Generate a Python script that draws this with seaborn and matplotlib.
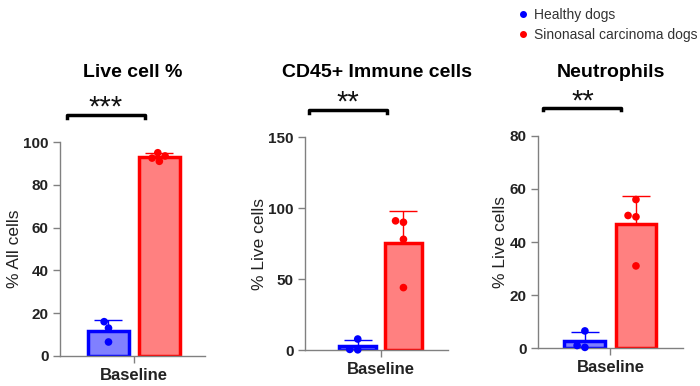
import numpy as np
import pandas as pd
import matplotlib
matplotlib.use("Agg")
import matplotlib.pyplot as plt
import seaborn as sns
from matplotlib.lines import Line2D

# ── Data ─────────────────────────────────────────────────────────────────────
groups = ["Healthy dogs", "Sinonasal carcinoma dogs"]
timepoint = "Baseline"

titles = ["Live cell %", "CD45+ Immune cells", "Neutrophils"]
ylabels = ["% All cells", "% Live cells", "% Live cells"]
yticks = [[0, 20, 40, 60, 80, 100], [0, 50, 100, 150], [0, 20, 40, 60, 80]]
stars = ["***", "**", "**"]

live_healthy = [16.0, 13.0, 6.5]
live_snc = [95.0, 93.5, 91.0, 92.5]
cd45_healthy = [7.8, 0.2, 0.5]
cd45_snc = [90.0, 91.0, 78.0, 44.0]
neut_healthy = [6.5, 0.3, 1.0]
neut_snc = [56.0, 50.0, 49.5, 31.0]

panels = [(live_healthy, live_snc), (cd45_healthy, cd45_snc), (neut_healthy, neut_snc)]

edge_colors = ["#0000FF", "#FF0000"]
fill_colors = ["#8080FF", "#FF8080"]

# ── Layout (pixel-measured positions) ────────────────────────────────────────
axes_rects = [
    [0.086, 0.078, 0.207, 0.554],
    [0.436, 0.093, 0.204, 0.552],
    [0.769, 0.098, 0.207, 0.550],
]
xlims = [(-0.58, 0.56), (-0.66, 0.59), (-0.565, 0.57)]
bracket_x = [(-0.53, 0.085), (-0.63, 0.06), (-0.525, 0.086)]
bracket_y = [1.126, 1.127, 1.132]
title_y = [1.304, 1.282, 1.278]

plt.rcParams["font.family"] = ["Liberation Sans", "DejaVu Sans"]

fig = plt.figure(figsize=(7.0, 3.86), dpi=100)

for i, (healthy, snc) in enumerate(panels):
    ax = fig.add_axes(axes_rects[i])
    df = pd.DataFrame({
        "time": [timepoint] * (len(healthy) + len(snc)),
        "group": [groups[0]] * len(healthy) + [groups[1]] * len(snc),
        "value": list(healthy) + list(snc),
    })

    sns.barplot(
        data=df, x="time", y="value", hue="group", hue_order=groups,
        palette=fill_colors, errorbar=None, width=0.8, gap=0.2,
        linewidth=2.5, legend=False, ax=ax, zorder=2,
    )
    for patch, ec, fc in zip(ax.patches, edge_colors, fill_colors):
        patch.set_edgecolor(ec)
        patch.set_facecolor(fc)

    # upper-only SD error bars, Prism style
    for patch, vals, ec in zip(ax.patches, (healthy, snc), edge_colors):
        xc = patch.get_x() + patch.get_width() / 2
        m = np.mean(vals)
        sd = np.std(vals, ddof=1)
        ax.errorbar(xc, m, yerr=[[0], [sd]], color=ec, linewidth=1,
                    capsize=10, capthick=1, zorder=3, clip_on=False)

    sns.swarmplot(
        data=df, x="time", y="value", hue="group", hue_order=groups,
        palette=edge_colors, dodge=True, size=5.5, legend=False, ax=ax,
        zorder=4,
    )
    for coll in ax.collections:
        coll.set_clip_on(False)

    ax.set_xlim(*xlims[i])
    ax.set_ylim(0, yticks[i][-1])
    ax.set_yticks(yticks[i])
    ax.set_xticks([0])
    ax.set_xticklabels([timepoint])
    ax.set_xlabel("")
    ax.set_ylabel(ylabels[i], fontsize=12.5, labelpad=1, color="#222222")

    for side in ["top", "right"]:
        ax.spines[side].set_visible(False)
    for side in ["left", "bottom"]:
        ax.spines[side].set_color("#808080")
        ax.spines[side].set_linewidth(1.0)
    ax.tick_params(axis="both", colors="#808080", width=1.0, length=5,
                   labelcolor="#222222")
    for lab in ax.get_yticklabels():
        lab.set_fontweight("bold")
        lab.set_fontsize(11)
    for lab in ax.get_xticklabels():
        lab.set_fontweight("bold")
        lab.set_fontsize(12)

    ax.set_title(titles[i], fontsize=14, fontweight="bold", y=title_y[i], pad=0)

    # significance bracket with small down-turned ends
    x0, x1 = bracket_x[i]
    by = bracket_y[i]
    tr = ax.get_xaxis_transform()
    ax.plot([x0, x0, x1, x1], [by - 0.012, by, by, by - 0.012], color="black",
            linewidth=2.5, transform=tr, clip_on=False)
    ax.text((x0 + x1) / 2, 1.16, stars[i], transform=tr, ha="center",
            va="center", fontsize=21, color="#111111")

handles = [
    Line2D([0], [0], marker="o", linestyle="", color=c, markersize=4)
    for c in edge_colors
]
fig.legend(handles, groups, loc="upper left", bbox_to_anchor=(0.725, 1.0),
           frameon=False, fontsize=10, handletextpad=0.3, labelspacing=0.4,
           borderaxespad=0.2, handlelength=1.0, labelcolor="#333333")

fig.savefig("out.png", dpi=100)
